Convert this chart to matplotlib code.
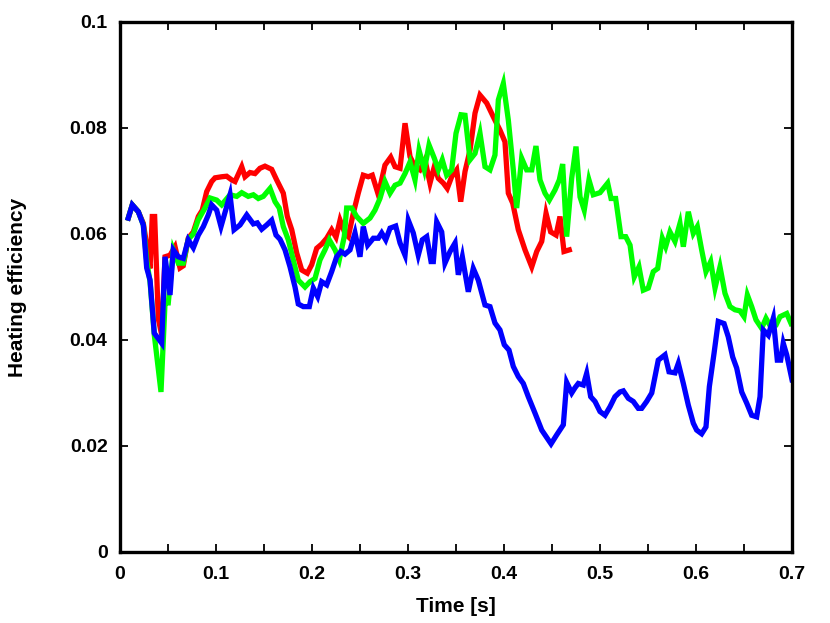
import matplotlib
matplotlib.use("Agg")
import matplotlib.pyplot as plt
from matplotlib.ticker import MultipleLocator, FixedLocator, FixedFormatter

# ---------------- data ----------------
red_t = [0.0086, 0.0128, 0.0191, 0.0243, 0.0278, 0.0313, 0.0336, 0.0361, 0.0399, 0.0434,
         0.0469, 0.0521, 0.0573, 0.0625, 0.0659, 0.0711, 0.0764, 0.0816, 0.0857, 0.0903,
         0.0955, 0.0990, 0.1059, 0.1111, 0.1164, 0.1198, 0.1268, 0.1302, 0.1354, 0.1406,
         0.1458, 0.1510, 0.1580, 0.1632, 0.1701, 0.1743, 0.1789, 0.1841, 0.1893, 0.1951,
         0.1997, 0.2049, 0.2101, 0.2153, 0.2205, 0.2250, 0.2292, 0.2344, 0.2378, 0.2430,
         0.2482, 0.2534, 0.2586, 0.2628, 0.2691, 0.2760, 0.2820, 0.2865, 0.2917, 0.2969,
         0.3021, 0.3073, 0.3125, 0.3177, 0.3229, 0.3274, 0.3316, 0.3368, 0.3409, 0.3455,
         0.3507, 0.3549, 0.3594, 0.3646, 0.3698, 0.3750, 0.3820, 0.3889, 0.3958, 0.4010,
         0.4045, 0.4091, 0.4149, 0.4219, 0.4289, 0.4341, 0.4393, 0.4438, 0.4486, 0.4542,
         0.4583, 0.4625, 0.4680]
red_v = [0.0630, 0.0655, 0.0642, 0.0620, 0.0580, 0.0535, 0.0633, 0.0633, 0.0440, 0.0410,
         0.0557, 0.0560, 0.0576, 0.0536, 0.0540, 0.0592, 0.0604, 0.0633, 0.0645, 0.0680,
         0.0699, 0.0706, 0.0708, 0.0709, 0.0702, 0.0699, 0.0727, 0.0708, 0.0716, 0.0714,
         0.0724, 0.0728, 0.0722, 0.0702, 0.0677, 0.0633, 0.0608, 0.0564, 0.0532, 0.0526,
         0.0542, 0.0573, 0.0581, 0.0592, 0.0608, 0.0594, 0.0626, 0.0601, 0.0595, 0.0639,
         0.0677, 0.0711, 0.0708, 0.0711, 0.0674, 0.0730, 0.0745, 0.0727, 0.0724, 0.0809,
         0.0746, 0.0727, 0.0721, 0.0740, 0.0696, 0.0727, 0.0705, 0.0696, 0.0686, 0.0708,
         0.0721, 0.0661, 0.0718, 0.0758, 0.0828, 0.0862, 0.0847, 0.0821, 0.0796, 0.0774,
         0.0677, 0.0658, 0.0608, 0.0570, 0.0538, 0.0567, 0.0586, 0.0639, 0.0604, 0.0598,
         0.0633, 0.0567, 0.0570]

green_t = [0.0086, 0.0128, 0.0191, 0.0243, 0.0278, 0.0313, 0.0357, 0.0427, 0.0469, 0.0503,
           0.0555, 0.0607, 0.0659, 0.0711, 0.0764, 0.0813, 0.0885, 0.0938, 0.1007, 0.1059,
           0.1146, 0.1216, 0.1268, 0.1336, 0.1389, 0.1441, 0.1493, 0.1563, 0.1615, 0.1659,
           0.1701, 0.1753, 0.1805, 0.1857, 0.1927, 0.1979, 0.2031, 0.2083, 0.2135, 0.2180,
           0.2240, 0.2284, 0.2336, 0.2361, 0.2414, 0.2465, 0.2534, 0.2604, 0.2656, 0.2708,
           0.2760, 0.2813, 0.2865, 0.2917, 0.2969, 0.3021, 0.3073, 0.3115, 0.3170, 0.3219,
           0.3274, 0.3316, 0.3357, 0.3403, 0.3455, 0.3500, 0.3552, 0.3594, 0.3646, 0.3698,
           0.3750, 0.3802, 0.3854, 0.3906, 0.3941, 0.3993, 0.4045, 0.4097, 0.4132, 0.4184,
           0.4236, 0.4289, 0.4333, 0.4375, 0.4427, 0.4472, 0.4531, 0.4576, 0.4611, 0.4653,
           0.4705, 0.4750, 0.4792, 0.4836, 0.4885, 0.4930, 0.5000, 0.5080, 0.5115, 0.5163,
           0.5219, 0.5268, 0.5313, 0.5357, 0.5406, 0.5451, 0.5503, 0.5555, 0.5601, 0.5649,
           0.5684, 0.5729, 0.5781, 0.5833, 0.5868, 0.5920, 0.5972, 0.6014, 0.6059, 0.6104,
           0.6153, 0.6198, 0.6250, 0.6302, 0.6354, 0.6406, 0.6458, 0.6500, 0.6535, 0.6580,
           0.6625, 0.6684, 0.6729, 0.6778, 0.6833, 0.6875, 0.6945, 0.6990]
green_v = [0.0630, 0.0655, 0.0642, 0.0617, 0.0550, 0.0510, 0.0410, 0.0302, 0.0470, 0.0470,
           0.0570, 0.0545, 0.0545, 0.0590, 0.0600, 0.0626, 0.0649, 0.0668, 0.0664, 0.0655,
           0.0674, 0.0671, 0.0678, 0.0671, 0.0674, 0.0667, 0.0671, 0.0686, 0.0661, 0.0649,
           0.0614, 0.0589, 0.0551, 0.0513, 0.0500, 0.0510, 0.0516, 0.0551, 0.0570, 0.0589,
           0.0570, 0.0551, 0.0595, 0.0649, 0.0649, 0.0633, 0.0620, 0.0630, 0.0645, 0.0667,
           0.0699, 0.0677, 0.0692, 0.0696, 0.0714, 0.0736, 0.0702, 0.0758, 0.0721, 0.0768,
           0.0743, 0.0721, 0.0740, 0.0711, 0.0721, 0.0790, 0.0825, 0.0824, 0.0740, 0.0752,
           0.0790, 0.0727, 0.0721, 0.0749, 0.0853, 0.0884, 0.0815, 0.0721, 0.0649, 0.0743,
           0.0721, 0.0721, 0.0766, 0.0702, 0.0677, 0.0664, 0.0683, 0.0702, 0.0732, 0.0595,
           0.0705, 0.0765, 0.0670, 0.0645, 0.0702, 0.0674, 0.0678, 0.0696, 0.0667, 0.0667,
           0.0595, 0.0595, 0.0579, 0.0519, 0.0538, 0.0494, 0.0498, 0.0529, 0.0535, 0.0592,
           0.0576, 0.0604, 0.0586, 0.0620, 0.0576, 0.0642, 0.0601, 0.0614, 0.0570, 0.0529,
           0.0548, 0.0498, 0.0538, 0.0488, 0.0463, 0.0457, 0.0455, 0.0444, 0.0485, 0.0463,
           0.0438, 0.0422, 0.0441, 0.0425, 0.0428, 0.0444, 0.0450, 0.0431]

blue_t = [0.0086, 0.0128, 0.0191, 0.0243, 0.0278, 0.0313, 0.0357, 0.0434, 0.0469, 0.0521,
          0.0555, 0.0607, 0.0659, 0.0711, 0.0764, 0.0816, 0.0868, 0.0920, 0.0955, 0.1007,
          0.1052, 0.1146, 0.1188, 0.1250, 0.1320, 0.1389, 0.1430, 0.1476, 0.1528, 0.1580,
          0.1625, 0.1667, 0.1719, 0.1771, 0.1823, 0.1857, 0.1909, 0.1972, 0.2014, 0.2059,
          0.2101, 0.2153, 0.2205, 0.2257, 0.2302, 0.2344, 0.2396, 0.2448, 0.2500, 0.2534,
          0.2580, 0.2639, 0.2691, 0.2726, 0.2768, 0.2813, 0.2872, 0.2917, 0.2969, 0.3003,
          0.3055, 0.3107, 0.3149, 0.3195, 0.3240, 0.3264, 0.3299, 0.3351, 0.3385, 0.3438,
          0.3490, 0.3524, 0.3566, 0.3628, 0.3680, 0.3732, 0.3802, 0.3854, 0.3906, 0.3958,
          0.4003, 0.4052, 0.4097, 0.4149, 0.4201, 0.4253, 0.4323, 0.4393, 0.4490, 0.4549,
          0.4618, 0.4653, 0.4705, 0.4740, 0.4774, 0.4826, 0.4861, 0.4903, 0.4948, 0.5000,
          0.5052, 0.5104, 0.5156, 0.5208, 0.5243, 0.5295, 0.5347, 0.5399, 0.5434, 0.5486,
          0.5539, 0.5607, 0.5677, 0.5719, 0.5781, 0.5816, 0.5868, 0.5920, 0.5972, 0.6007,
          0.6059, 0.6104, 0.6139, 0.6188, 0.6232, 0.6292, 0.6336, 0.6382, 0.6424, 0.6476,
          0.6528, 0.6580, 0.6632, 0.6667, 0.6701, 0.6753, 0.6805, 0.6847, 0.6882, 0.6909,
          0.6945, 0.7000]
blue_v = [0.0630, 0.0655, 0.0642, 0.0617, 0.0536, 0.0513, 0.0413, 0.0394, 0.0557, 0.0485,
          0.0570, 0.0557, 0.0554, 0.0589, 0.0574, 0.0598, 0.0614, 0.0636, 0.0655, 0.0645,
          0.0614, 0.0674, 0.0608, 0.0617, 0.0636, 0.0619, 0.0621, 0.0609, 0.0617, 0.0626,
          0.0598, 0.0590, 0.0570, 0.0538, 0.0500, 0.0468, 0.0463, 0.0463, 0.0498, 0.0482,
          0.0510, 0.0504, 0.0529, 0.0557, 0.0567, 0.0562, 0.0570, 0.0602, 0.0557, 0.0614,
          0.0579, 0.0592, 0.0592, 0.0602, 0.0589, 0.0611, 0.0615, 0.0583, 0.0560, 0.0626,
          0.0602, 0.0560, 0.0589, 0.0595, 0.0548, 0.0548, 0.0623, 0.0604, 0.0545, 0.0567,
          0.0583, 0.0523, 0.0557, 0.0491, 0.0535, 0.0513, 0.0466, 0.0463, 0.0432, 0.0419,
          0.0391, 0.0381, 0.0350, 0.0331, 0.0318, 0.0293, 0.0262, 0.0230, 0.0204, 0.0221,
          0.0240, 0.0320, 0.0300, 0.0310, 0.0318, 0.0315, 0.0337, 0.0293, 0.0284, 0.0265,
          0.0258, 0.0274, 0.0293, 0.0302, 0.0304, 0.0290, 0.0284, 0.0271, 0.0271, 0.0284,
          0.0300, 0.0362, 0.0372, 0.0340, 0.0338, 0.0356, 0.0318, 0.0277, 0.0243, 0.0230,
          0.0223, 0.0236, 0.0312, 0.0375, 0.0435, 0.0431, 0.0406, 0.0368, 0.0347, 0.0302,
          0.0281, 0.0258, 0.0255, 0.0293, 0.0419, 0.0409, 0.0441, 0.0362, 0.0362, 0.0394,
          0.0372, 0.0325]

x_ticks = [0, 0.1, 0.2, 0.3, 0.4, 0.5, 0.6, 0.7]
x_labels = ["0", "0.1", "0.2", "0.3", "0.4", "0.5", "0.6", "0.7"]
y_ticks = [0, 0.02, 0.04, 0.06, 0.08, 0.1]
y_labels = ["0", "0.02", "0.04", "0.06", "0.08", "0.1"]

# ---------------- figure ----------------
plt.rcParams["font.family"] = ["Liberation Sans", "DejaVu Sans"]
plt.rcParams["font.weight"] = "bold"

fig = plt.figure(figsize=(8.30, 6.23), dpi=100)
ax = fig.add_axes([120 / 830, 71 / 623, 672 / 830, 530 / 623])

lw = 3.8
ax.plot(red_t, red_v, color="#ff0000", lw=lw, solid_joinstyle="miter", zorder=2)
ax.plot(green_t, green_v, color="#00ff00", lw=lw, solid_joinstyle="miter", zorder=3)
ax.plot(blue_t, blue_v, color="#0000ff", lw=lw, solid_joinstyle="miter", zorder=4)

ax.set_xlim(0, 0.7)
ax.set_ylim(0, 0.1)

ax.xaxis.set_major_locator(FixedLocator(x_ticks))
ax.xaxis.set_major_formatter(FixedFormatter(x_labels))
ax.xaxis.set_minor_locator(MultipleLocator(0.05))
ax.yaxis.set_major_locator(FixedLocator(y_ticks))
ax.yaxis.set_major_formatter(FixedFormatter(y_labels))

ax.tick_params(which="both", direction="in", top=True, right=True,
               length=6, width=1.3, color="black")
ax.tick_params(axis="x", which="major", labelsize=14, pad=10)
ax.tick_params(axis="y", which="major", labelsize=14, pad=9)
for lab in ax.get_xticklabels() + ax.get_yticklabels():
    lab.set_fontweight("bold")

for sp in ax.spines.values():
    sp.set_linewidth(2.4)
    sp.set_zorder(10)

ax.set_xlabel("Time [s]", fontsize=15, fontweight="bold")
ax.set_ylabel("Heating efficiency", fontsize=15, fontweight="bold")
ax.xaxis.set_label_coords(0.5, (552 - 597) / 530)
ax.yaxis.set_label_coords((27 - 120) / 672, 0.5)

fig.savefig("out.png", dpi=100)
